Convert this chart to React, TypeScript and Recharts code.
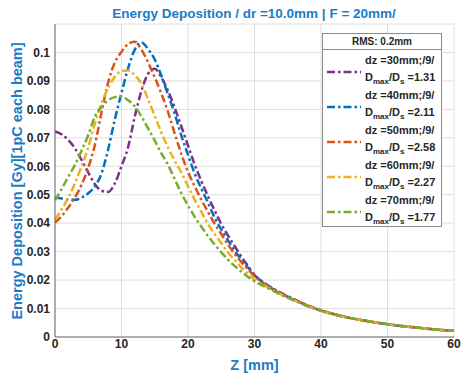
import React from "react";
import {
  LineChart,
  Line,
  XAxis,
  YAxis,
  CartesianGrid,
  Legend,
  Label,
} from "recharts";

// Z positions (mm)
const zValues = [
  0, 1, 2, 3, 4, 5, 6, 7, 8, 9, 10, 11, 12, 13, 14, 15, 16, 17, 18, 19, 20,
  21, 22, 23, 24, 25, 26, 27, 28, 29, 30, 32, 34, 36, 38, 40, 42, 44, 46, 48,
  50, 52, 54, 56, 58, 60,
];

// dose per series
const dz30 = [
  0.0722, 0.0712, 0.0692, 0.0663, 0.0622, 0.0578, 0.0537, 0.0514, 0.051,
  0.054, 0.06, 0.0668, 0.0775, 0.0865, 0.0925, 0.0943, 0.0912, 0.0865, 0.0806,
  0.074, 0.0673, 0.0607, 0.0548, 0.0495, 0.0445, 0.0397, 0.0357, 0.032,
  0.0283, 0.025, 0.0218, 0.0182, 0.0155, 0.0132, 0.0111, 0.0094, 0.008,
  0.0069, 0.006, 0.0052, 0.0045, 0.0039, 0.0034, 0.0029, 0.0025, 0.0022,
];
const dz40 = [
  0.049, 0.0487, 0.0483, 0.0482, 0.049, 0.0505, 0.053, 0.0575, 0.066, 0.0765,
  0.0858, 0.0945, 0.101, 0.1035, 0.1012, 0.0975, 0.0918, 0.0852, 0.0785,
  0.0708, 0.064, 0.0575, 0.0522, 0.0472, 0.042, 0.0378, 0.034, 0.0304, 0.0273,
  0.0245, 0.0218, 0.018, 0.0153, 0.0131, 0.011, 0.0093, 0.008, 0.0069, 0.006,
  0.0052, 0.0045, 0.0039, 0.0034, 0.0029, 0.0025, 0.0022,
];
const dz50 = [
  0.0402, 0.0425, 0.0455, 0.049, 0.0535, 0.0595, 0.0675, 0.079, 0.0895,
  0.0965, 0.1002, 0.103, 0.1038, 0.101, 0.0965, 0.0912, 0.0855, 0.079, 0.0715,
  0.0643, 0.058, 0.053, 0.0483, 0.044, 0.0398, 0.0362, 0.0325, 0.0292, 0.0264,
  0.0238, 0.0214, 0.0178, 0.0152, 0.013, 0.011, 0.0093, 0.008, 0.0069, 0.006,
  0.0052, 0.0045, 0.0039, 0.0034, 0.0029, 0.0025, 0.0022,
];
const dz60 = [
  0.0413, 0.0448, 0.049, 0.054, 0.06, 0.0667, 0.075, 0.0822, 0.0875, 0.0915,
  0.0935, 0.0937, 0.092, 0.089, 0.0835, 0.0777, 0.0718, 0.0665, 0.062, 0.0578,
  0.053, 0.0483, 0.044, 0.0397, 0.0362, 0.033, 0.0298, 0.027, 0.0245, 0.0222,
  0.0202, 0.0175, 0.015, 0.0129, 0.0109, 0.0092, 0.0079, 0.0068, 0.006,
  0.0052, 0.0045, 0.0039, 0.0034, 0.0029, 0.0025, 0.0022,
];
const dz70 = [
  0.048, 0.052, 0.0563, 0.0605, 0.0655, 0.071, 0.0775, 0.0808, 0.0832, 0.0843,
  0.0845, 0.0832, 0.081, 0.0775, 0.0733, 0.069, 0.0645, 0.0605, 0.0555,
  0.0505, 0.0462, 0.0423, 0.0388, 0.0355, 0.0325, 0.0298, 0.0272, 0.025, 0.023,
  0.0212, 0.0196, 0.0172, 0.0148, 0.0128, 0.0108, 0.0092, 0.0079, 0.0068,
  0.0059, 0.0052, 0.0045, 0.0039, 0.0034, 0.0029, 0.0025, 0.0022,
];

const seriesKeys = ["dz30", "dz40", "dz50", "dz60", "dz70"];
const seriesNames = [
  "dz =30mm;/9/",
  "dz =40mm;/9/",
  "dz =50mm;/9/",
  "dz =60mm;/9/",
  "dz =70mm;/9/",
];
const seriesRatios = ["1.31", "2.11", "2.58", "2.27", "1.77"];
const colors = ["#7E2F8E", "#0072BD", "#D95319", "#EDB120", "#77AC30"];
const xTicks = [0, 10, 20, 30, 40, 50, 60];
const yTicks = [0, 0.01, 0.02, 0.03, 0.04, 0.05, 0.06, 0.07, 0.08, 0.09, 0.1];

const data = zValues.map((z, i) => ({
  z,
  dz30: dz30[i],
  dz40: dz40[i],
  dz50: dz50[i],
  dz60: dz60[i],
  dz70: dz70[i],
}));

const FONT = "'Liberation Sans', Arial, Helvetica, sans-serif";
const BLUE = "#1a7cc8";
const DASH = "8 3 2.5 3";

function LegendBox() {
  return (
    <div
      style={{
        width: 120,
        height: 194,
        background: "#fff",
        border: "1px solid #8c8c8c",
        fontFamily: FONT,
        fontWeight: "bold",
        color: "#262626",
        boxSizing: "border-box",
      }}
    >
      <div
        style={{
          height: 15,
          borderBottom: "1px solid #8c8c8c",
          fontSize: 10,
          lineHeight: "15px",
          textAlign: "center",
        }}
      >
        RMS: 0.2mm
      </div>
      <div style={{ paddingTop: 4 }}>
        {seriesNames.map((name, i) => (
          <div
            key={name}
            style={{ height: 35, display: "flex", alignItems: "center" }}
          >
            <svg width={40} height={6} style={{ flex: "none" }}>
              <line
                x1={4}
                y1={3}
                x2={38}
                y2={3}
                stroke={colors[i]}
                strokeWidth={2.5}
                strokeDasharray={DASH}
              />
            </svg>
            <div style={{ fontSize: 11, lineHeight: "17px", marginLeft: 2 }}>
              <div>{name}</div>
              <div style={{ whiteSpace: "nowrap" }}>
                D<sub style={{ fontSize: 8 }}>max</sub>/D
                <sub style={{ fontSize: 8 }}>s</sub> ={seriesRatios[i]}
              </div>
            </div>
          </div>
        ))}
      </div>
    </div>
  );
}

export default function App() {
  return (
    <div
      style={{
        position: "absolute",
        left: 0,
        top: 0,
        width: 461,
        height: 377,
        background: "#fff",
        fontFamily: FONT,
        overflow: "hidden",
      }}
    >
      <div
        style={{
          position: "absolute",
          top: 6,
          left: 55,
          width: 398,
          textAlign: "center",
          fontSize: 13.5,
          fontWeight: "bold",
          color: BLUE,
        }}
      >
        Energy Deposition / dr =10.0mm | F = 20mm/
      </div>
      <LineChart
        width={461}
        height={377}
        data={data}
        margin={{ top: 24, right: 7, bottom: 20, left: 0 }}
      >
        <CartesianGrid stroke="#dedede" />
        <XAxis
          dataKey="z"
          type="number"
          domain={[0, 60]}
          ticks={xTicks}
          height={20}
          tickSize={0}
          tickMargin={2}
          stroke="#6e6e6e"
          tick={{ fontSize: 12, fontWeight: "bold", fill: "#262626", fontFamily: FONT }}
        >
          <Label
            value="Z [mm]"
            position="bottom"
            offset={3}
            style={{ fontSize: 14.5, fontWeight: "bold", fill: BLUE, fontFamily: FONT }}
          />
        </XAxis>
        <XAxis
          xAxisId="top"
          orientation="top"
          dataKey="z"
          type="number"
          domain={[0, 60]}
          height={0}
          tick={false}
          tickLine={false}
          stroke="#6e6e6e"
        />
        <YAxis
          type="number"
          domain={[0, 0.11]}
          ticks={yTicks}
          width={55}
          tickSize={0}
          tickMargin={5}
          stroke="#6e6e6e"
          tickFormatter={(v: number) => String(+v.toFixed(2))}
          tick={{ fontSize: 12, fontWeight: "bold", fill: "#262626", fontFamily: FONT }}
        >
          <Label
            content={() => (
              <text
                x={17}
                y={181}
                transform="rotate(-90 17 181)"
                textAnchor="middle"
                dominantBaseline="central"
                style={{ fontSize: 14.5, fontWeight: "bold", fill: BLUE, fontFamily: FONT }}
              >
                Energy Deposition [Gy][1pC each beam]
              </text>
            )}
          />
        </YAxis>
        <YAxis
          yAxisId="right"
          orientation="right"
          domain={[0, 0.11]}
          width={0}
          tick={false}
          tickLine={false}
          stroke="#6e6e6e"
        />
        {seriesKeys.map((k, i) => (
          <Line
            key={k}
            dataKey={k}
            name={seriesNames[i]}
            type="monotone"
            stroke={colors[i]}
            strokeWidth={2.5}
            strokeDasharray={DASH}
            dot={false}
            activeDot={false}
            isAnimationActive={false}
          />
        ))}
        <Legend
          layout="horizontal"
          verticalAlign="middle"
          align="center"
          wrapperStyle={{ position: "absolute", left: 322, top: 33, width: 120 }}
          content={() => <LegendBox />}
        />
      </LineChart>
    </div>
  );
}
